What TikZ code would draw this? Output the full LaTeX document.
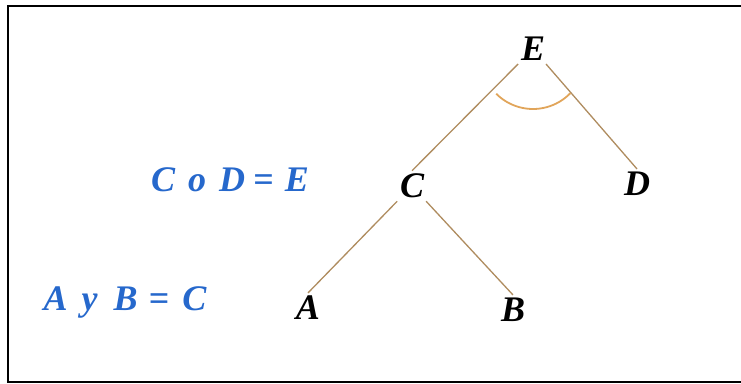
\documentclass[tikz,border=0pt]{standalone}
\usepackage{fontspec}
\setmainfont{Liberation Serif}
\begin{document}
\begin{tikzpicture}[
    x=1pt,y=1pt,
    every node/.style={font=\fontsize{36}{42}\selectfont\bfseries\itshape, inner sep=3pt},
    letter/.style={text=black},
    rule/.style={text=ruleblue},
    branch/.style={draw=branchtan, line width=1.3pt},
    angle/.style={draw=arcorange, line width=1.8pt}
]
    \definecolor{ruleblue}{RGB}{38,104,204}
    \definecolor{branchtan}{RGB}{175,140,95}
    \definecolor{arcorange}{RGB}{225,165,90}
    \useasboundingbox (0,0) rectangle (741,383);
    \begin{scope}
        \clip (0,0) rectangle (741,383);
        \draw[line width=2pt] (8,1) rectangle (752,377);
    \end{scope}

    \node[letter] (E) at (533,334) {E};
    \node[letter] (C) at (412,197) {C};
    \node[letter] (D) at (637,199) {D};
    \node[letter] (A) at (308,75) {A};
    \node[letter] (B) at (513,73) {B};

    \foreach \from/\to in {E/C,E/D,C/A,C/B}
        \draw[branch] (\from) -- (\to.north);

    \draw[angle] ([yshift=-8pt]E.center) ++(225:52) arc[start angle=225, end angle=316, radius=52];

    \node[rule] (ruleE) at (230,203) {C\hspace{13pt}o\hspace{13pt}D\hspace{8pt}=\hspace{11pt}E};
    \node[rule] (ruleC) at (125,81) {A\hspace{14pt}y\hspace{16pt}B\hspace{11pt}=\hspace{13pt}C};
\end{tikzpicture}
\end{document}
